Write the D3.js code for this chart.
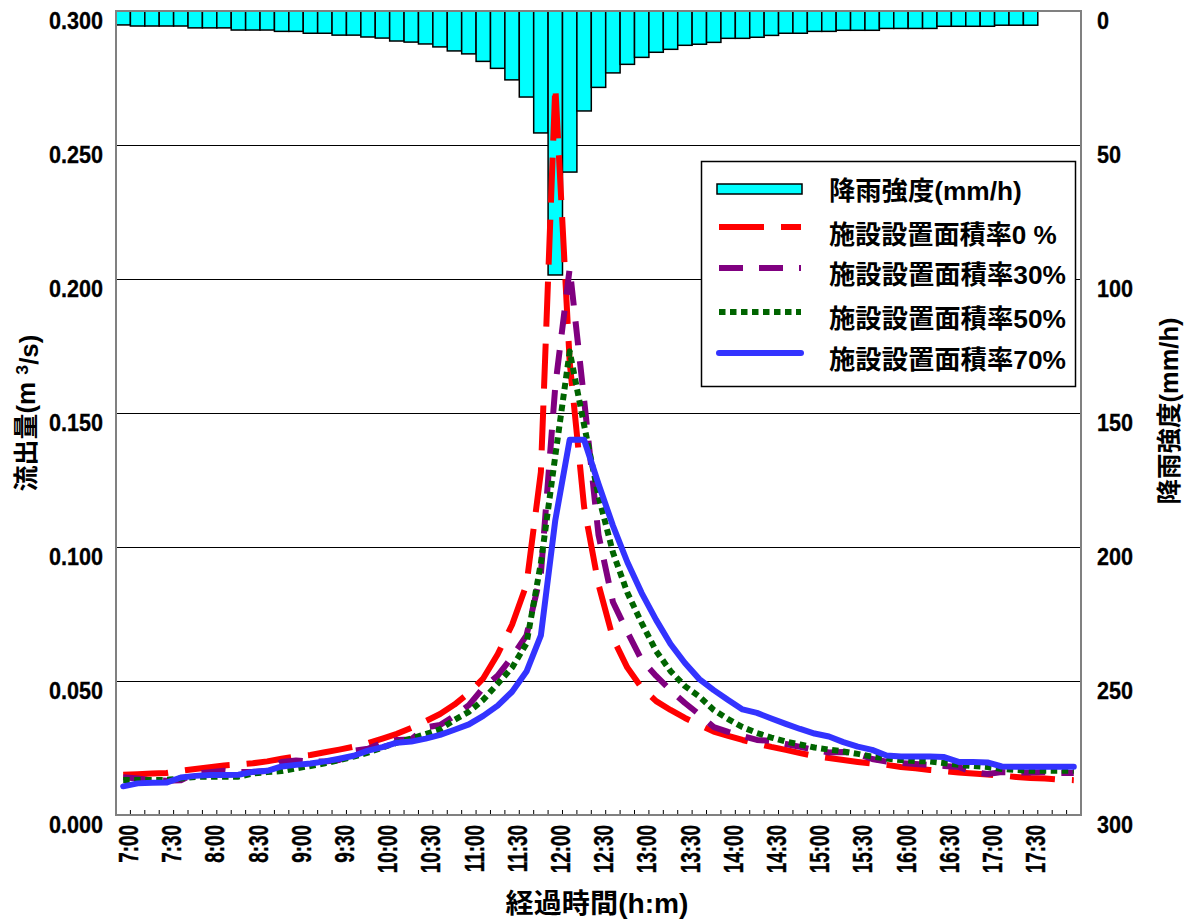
<!DOCTYPE html>
<html><head><meta charset="utf-8">
<script src="https://cdn.jsdelivr.net/npm/d3@7"></script>
<style>
body{margin:0;background:#fff}
svg{display:block}
text{font-family:"Liberation Sans",Arial,"Noto Sans CJK JP",sans-serif;fill:#000}
</style>
</head><body>
<svg id="c" width="1189" height="921"></svg>
<script>
const categories = ["7:00","7:10","7:20","7:30","7:40","7:50","8:00","8:10","8:20","8:30","8:40","8:50",
"9:00","9:10","9:20","9:30","9:40","9:50","10:00","10:10","10:20","10:30","10:40","10:50",
"11:00","11:10","11:20","11:30","11:40","11:50","12:00","12:10","12:20","12:30","12:40","12:50",
"13:00","13:10","13:20","13:30","13:40","13:50","14:00","14:10","14:20","14:30","14:40","14:50",
"15:00","15:10","15:20","15:30","15:40","15:50","16:00","16:10","16:20","16:30","16:40","16:50",
"17:00","17:10","17:20","17:30","17:40","17:50","18:00"];
const xTickLabels = ["7:00","7:30","8:00","8:30","9:00","9:30","10:00","10:30","11:00","11:30","12:00",
"12:30","13:00","13:30","14:00","14:30","15:00","15:30","16:00","16:30","17:00","17:30"];
const leftTicks = [0, 0.05, 0.1, 0.15, 0.2, 0.25, 0.3];
const leftTickLabels = ["0.000","0.050","0.100","0.150","0.200","0.250","0.300"];
const rightTicks = [0, 50, 100, 150, 200, 250, 300];
const rainfall = [5.2,5.6,5.6,5.6,5.6,6.3,6.3,6.3,7.1,7.1,7.1,7.6,7.6,8.3,8.3,9.0,9.0,9.7,10.1,11.2,11.6,12.3,13.4,14.9,16.0,18.8,21.4,25.7,32.1,45.5,98.5,60.1,37.3,28.5,23.1,19.9,17.3,15.4,14.3,12.8,12.4,11.7,10.2,10.2,9.8,9.1,8.3,8.3,7.6,7.6,7.2,7.2,7.2,6.5,6.5,6.5,6.5,5.7,5.7,5.7,5.7,5.3,5.3,5.3];
const flow0 = [0.0150,0.0152,0.0155,0.0157,0.0165,0.0172,0.0178,0.0185,0.0188,0.0193,0.0200,0.0210,0.0219,0.0224,0.0234,0.0244,0.0255,0.0268,0.0285,0.0303,0.0325,0.0350,0.0377,0.0412,0.0455,0.0510,0.0600,0.0710,0.0860,0.1280,0.2720,0.1690,0.1150,0.0860,0.0660,0.0550,0.0474,0.0425,0.0392,0.0362,0.0336,0.0311,0.0295,0.0280,0.0267,0.0254,0.0243,0.0231,0.0220,0.0213,0.0205,0.0198,0.0192,0.0187,0.0179,0.0174,0.0168,0.0164,0.0159,0.0155,0.0151,0.0147,0.0142,0.0138,0.0136,0.0132,0.0130];
const flow30 = [0.0141,0.0136,0.0130,0.0128,0.0130,0.0155,0.0160,0.0165,0.0160,0.0160,0.0165,0.0198,0.0203,0.0199,0.0200,0.0205,0.0240,0.0247,0.0270,0.0280,0.0282,0.0327,0.0336,0.0370,0.0410,0.0475,0.0520,0.0590,0.0670,0.0900,0.1600,0.2040,0.1550,0.1045,0.0795,0.0683,0.0578,0.0519,0.0466,0.0418,0.0375,0.0328,0.0310,0.0295,0.0280,0.0276,0.0265,0.0254,0.0243,0.0233,0.0235,0.0228,0.0209,0.0199,0.0194,0.0190,0.0187,0.0183,0.0179,0.0160,0.0153,0.0160,0.0159,0.0159,0.0160,0.0157,0.0157];
const flow50 = [0.0131,0.0131,0.0131,0.0131,0.0136,0.0142,0.0143,0.0143,0.0143,0.0155,0.0160,0.0164,0.0174,0.0183,0.0193,0.0205,0.0218,0.0233,0.0252,0.0270,0.0285,0.0302,0.0320,0.0355,0.0385,0.0430,0.0490,0.0550,0.0640,0.0940,0.1340,0.1730,0.1455,0.1190,0.0980,0.0830,0.0716,0.0612,0.0537,0.0481,0.0442,0.0392,0.0358,0.0328,0.0306,0.0289,0.0274,0.0263,0.0252,0.0244,0.0237,0.0228,0.0218,0.0211,0.0205,0.0201,0.0200,0.0194,0.0187,0.0183,0.0179,0.0172,0.0168,0.0165,0.0165,0.0165,0.0165];
const flow70 = [0.0107,0.0118,0.0120,0.0121,0.0140,0.0146,0.0149,0.0149,0.0150,0.0161,0.0165,0.0181,0.0187,0.0192,0.0200,0.0210,0.0221,0.0240,0.0253,0.0270,0.0274,0.0285,0.0299,0.0318,0.0338,0.0370,0.0408,0.0460,0.0535,0.0670,0.1100,0.1400,0.1400,0.1235,0.1080,0.0944,0.0828,0.0728,0.0638,0.0567,0.0507,0.0466,0.0429,0.0394,0.0381,0.0360,0.0340,0.0321,0.0304,0.0293,0.0272,0.0255,0.0243,0.0222,0.0218,0.0218,0.0218,0.0216,0.0198,0.0198,0.0196,0.0181,0.0180,0.0180,0.0180,0.0180,0.0180];
const seriesNames = ["降雨強度(mm/h)","施設設置面積率0 %","施設設置面積率30%","施設設置面積率50%","施設設置面積率70%"];
const flowSeries = [flow0, flow30, flow50, flow70];
const lineColors = ["#FF0000","#800080","#006400","#3333FF"];
const lineDash = ["45 17","24 16","6.5 4.5",null];
const axisTitleLeft = "流出量";
const axisTitleRight = "降雨強度(mm/h)";
const axisTitleX = "経過時間(h:m)";

const svg = d3.select("#c");
const L = 116, R = 1081, T = 11, B = 815;

const x = d3.scaleBand().domain(d3.range(categories.length)).range([L, R]).padding(0);
const bw = x.bandwidth();
const yL = d3.scaleLinear().domain([0, 0.3]).range([B, T]);
const yR = d3.scaleLinear().domain([0, 300]).range([T, B]);

svg.append("rect").attr("width",1189).attr("height",921).attr("fill","#fff");

// gridlines
svg.append("g").selectAll("line").data(leftTicks.filter(v => v > 0 && v < 0.3)).join("line")
  .attr("x1", L).attr("x2", R)
  .attr("y1", d => Math.round(yL(d)) + 0.5).attr("y2", d => Math.round(yL(d)) + 0.5)
  .attr("stroke", "#000").attr("stroke-width", 1);

// rain bars (hanging from top)
svg.append("g").selectAll("rect").data(rainfall).join("rect")
  .attr("x", (d, i) => x(i)).attr("width", bw)
  .attr("y", yR(0)).attr("height", d => yR(d) - yR(0))
  .attr("fill", "#00FFFF").attr("stroke", "#000").attr("stroke-width", 1.5);

// x ticks
svg.append("g").selectAll("line").data(d3.range(1, categories.length)).join("line")
  .attr("x1", i => L + i * bw).attr("x2", i => L + i * bw)
  .attr("y1", B - 5).attr("y2", B)
  .attr("stroke", "#000").attr("stroke-width", 1);

// flow lines
const line = d3.line().x((d, i) => x(i) + bw / 2).y(d => yL(d));
flowSeries.forEach((s, k) => {
  const p = svg.append("path").datum(s).attr("d", line)
    .attr("fill", "none").attr("stroke", lineColors[k]).attr("stroke-width", 6)
    .attr("stroke-linejoin", "round")
    .attr("stroke-linecap", lineDash[k] ? "butt" : "round");
  if (lineDash[k]) p.attr("stroke-dasharray", lineDash[k]);
});

// plot border
svg.append("rect").attr("x", L).attr("y", T).attr("width", R - L).attr("height", B - T)
  .attr("fill", "none").attr("stroke", "#808080").attr("stroke-width", 2);

// left tick labels
svg.append("g").selectAll("text").data(leftTicks).join("text")
  .attr("transform", d => `translate(103,${yL(d) + 17.5}) scale(0.9,1)`)
  .attr("text-anchor", "end").attr("font-size", 24).attr("font-weight", "bold")
  .attr("stroke", "#000").attr("stroke-width", 0.3)
  .text((d, i) => leftTickLabels[i]);

// right tick labels
svg.append("g").selectAll("text").data(rightTicks).join("text")
  .attr("transform", d => `translate(1097,${yR(d) + 17.5}) scale(0.9,1)`)
  .attr("text-anchor", "start").attr("font-size", 24).attr("font-weight", "bold")
  .attr("stroke", "#000").attr("stroke-width", 0.3)
  .text(d => d);

// x tick labels (rotated)
svg.append("g").selectAll("text").data(xTickLabels).join("text")
  .attr("transform", d => `translate(${x(categories.indexOf(d)) + bw / 2 + 5},825) rotate(-90) scale(0.7,1)`)
  .attr("text-anchor", "end").attr("dy", "0.36em")
  .attr("font-size", 27).attr("font-weight", "bold")
  .attr("stroke", "#000").attr("stroke-width", 0.4)
  .text(d => d);

function fitScale(textSel, target) {
  const w = textSel.node().getComputedTextLength();
  return w > 0 ? target / w : 1;
}

// left axis title
const lt = svg.append("text").attr("text-anchor", "middle").attr("dy", "0.36em")
  .attr("font-size", 25).attr("font-weight", "bold");
lt.append("tspan").text(axisTitleLeft + "(m ");
lt.append("tspan").attr("dy", "-0.4em").attr("font-size", 17).text("3");
lt.append("tspan").attr("dy", "0.4em").text("/s)");
lt.attr("transform", `translate(26,413) rotate(-90) scale(${fitScale(lt, 157)},1)`);

// right axis title
const rt = svg.append("text").attr("text-anchor", "middle").attr("dy", "0.36em")
  .attr("font-size", 25).attr("font-weight", "bold").text(axisTitleRight);
rt.attr("transform", `translate(1169,411) rotate(-90) scale(${fitScale(rt, 187)},1)`);

// x axis title
const xt = svg.append("text").attr("text-anchor", "middle")
  .attr("font-size", 27).attr("font-weight", "bold").text(axisTitleX);
xt.attr("transform", `translate(597,913) scale(${fitScale(xt, 183)},1)`);

// legend
const lg = svg.append("g");
lg.append("rect").attr("x", 701.5).attr("y", 161.5).attr("width", 374).attr("height", 225)
  .attr("fill", "#fff").attr("stroke", "#000").attr("stroke-width", 1.5);
const textY = [191, 235, 275, 318.5, 359.5];
const swY = [189, 227, 268, 312, 353];
const textLen = [193, 228, 237, 237, 237];
lg.append("rect").attr("x", 717).attr("y", swY[0] - 5).attr("width", 85).attr("height", 10)
  .attr("fill", "#00FFFF").attr("stroke", "#000").attr("stroke-width", 1.5);
flowSeries.forEach((s, k) => {
  const l = lg.append("line").attr("x1", 719).attr("x2", 801)
    .attr("y1", swY[k + 1]).attr("y2", swY[k + 1])
    .attr("stroke", lineColors[k]).attr("stroke-width", 6)
    .attr("stroke-linecap", lineDash[k] ? "butt" : "round");
  if (lineDash[k]) l.attr("stroke-dasharray", lineDash[k]);
});
seriesNames.forEach((n, k) => {
  const t = lg.append("text").attr("font-size", 26).attr("font-weight", "bold")
    .attr("dy", "0.36em").text(n);
  t.attr("transform", `translate(829,${textY[k]}) scale(${fitScale(t, textLen[k])},1)`);
});
</script>
</body></html>
